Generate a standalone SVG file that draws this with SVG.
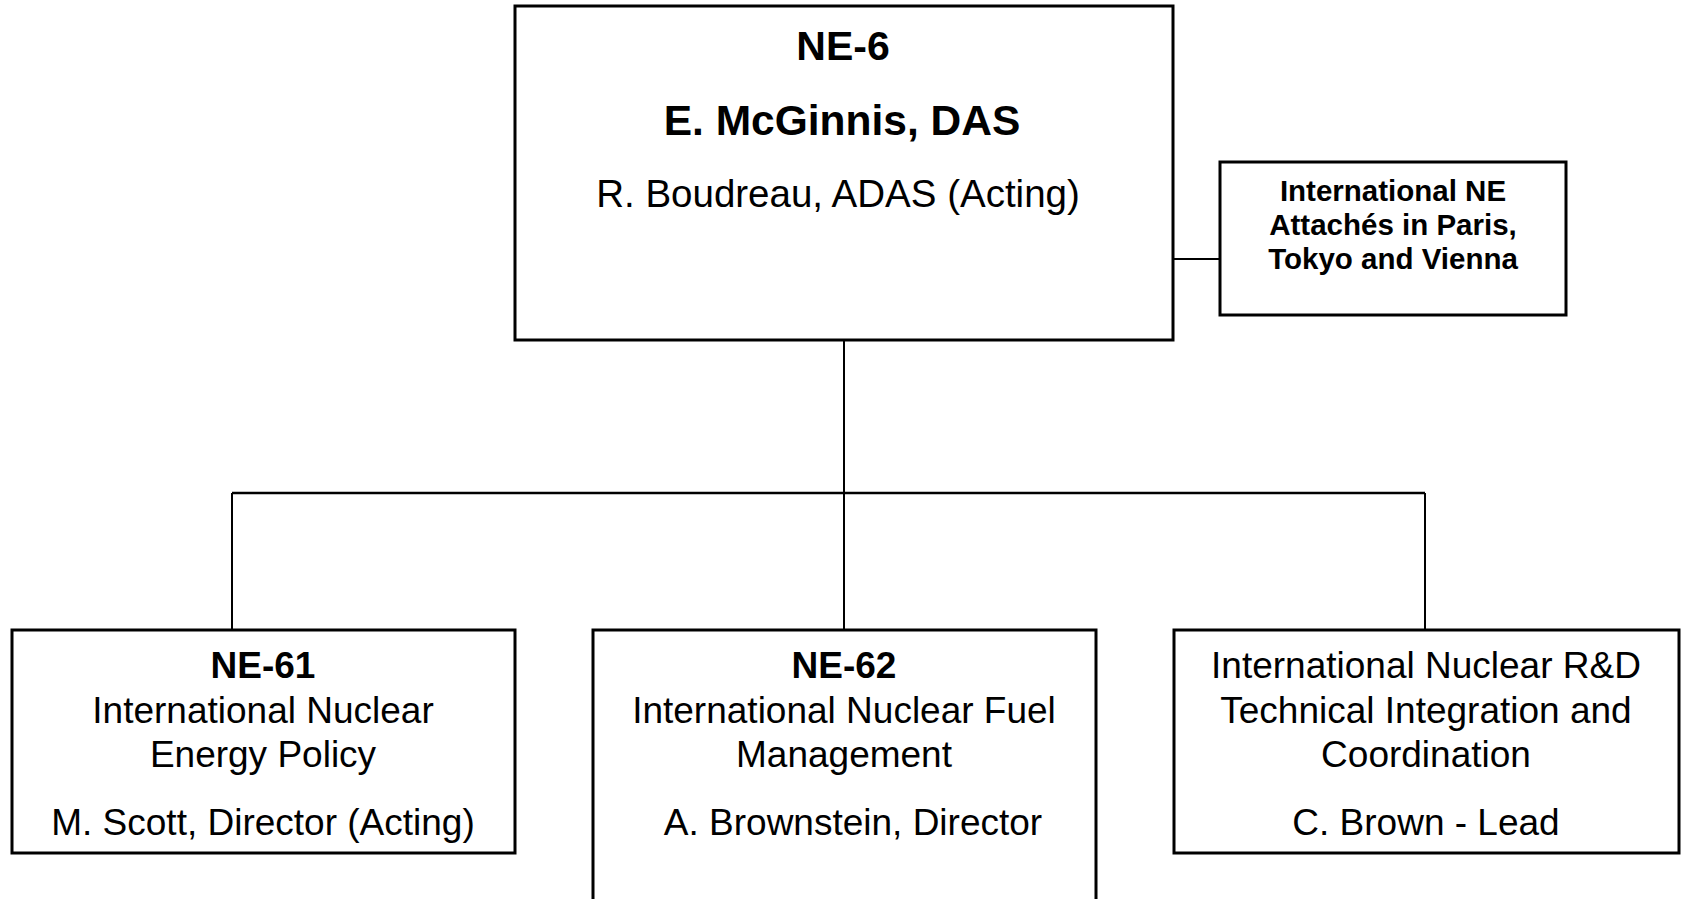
<svg xmlns="http://www.w3.org/2000/svg" width="1681" height="899" viewBox="0 0 1681 899">
<style>
.box{fill:#fff;stroke:#000;stroke-width:3}
.ln{fill:none;stroke:#000;stroke-width:2}
text{font-family:"Liberation Sans",Arial,sans-serif;fill:#000;text-anchor:middle}
.b{font-weight:bold}
.t37{font-size:37px}
.t38{font-size:38.5px}
.t41{font-size:41px}
.t42{font-size:42.5px}
.t29{font-size:29.5px}
</style>
<rect width="1681" height="899" fill="#fff"/>
<g id="connectors">
<line class="ln" x1="1173" y1="259" x2="1220" y2="259"/>
<line class="ln" x1="844" y1="340" x2="844" y2="630"/>
<line class="ln" x1="232" y1="493" x2="1425" y2="493" style="stroke-width:2.5"/>
<line class="ln" x1="232" y1="493" x2="232" y2="630"/>
<line class="ln" x1="1425" y1="493" x2="1425" y2="630"/>
</g>
<g id="ne6">
<rect class="box" x="515" y="6" width="658" height="334"/>
<text class="b t41" x="843" y="60">NE-6</text>
<text class="b t42" x="842" y="135">E. McGinnis, DAS</text>
<text class="t38" x="838" y="207">R. Boudreau, ADAS (Acting)</text>
</g>
<g id="attaches">
<rect class="box" x="1220" y="162" width="346" height="153"/>
<text class="b t29" x="1393" y="201">International NE</text>
<text class="b t29" x="1393" y="235">Attachés in Paris,</text>
<text class="b t29" x="1393" y="269">Tokyo and Vienna</text>
</g>
<g id="ne61">
<rect class="box" x="12" y="630" width="503" height="223"/>
<text class="b t37" x="263" y="678">NE-61</text>
<text class="t37" x="263" y="723">International Nuclear</text>
<text class="t37" x="263" y="767">Energy Policy</text>
<text class="t37" x="263" y="835">M. Scott, Director (Acting)</text>
</g>
<g id="ne62">
<rect class="box" x="593" y="630" width="503" height="280"/>
<text class="b t37" x="844" y="678">NE-62</text>
<text class="t37" x="844" y="723">International Nuclear Fuel</text>
<text class="t37" x="844" y="767">Management</text>
<text class="t37" x="853" y="835">A. Brownstein, Director</text>
</g>
<g id="rnd">
<rect class="box" x="1174" y="630" width="505" height="223"/>
<text class="t37" x="1426" y="678">International Nuclear R&amp;D</text>
<text class="t37" x="1426" y="723">Technical Integration and</text>
<text class="t37" x="1426" y="767">Coordination</text>
<text class="t37" x="1426" y="835">C. Brown - Lead</text>
</g>
</svg>
